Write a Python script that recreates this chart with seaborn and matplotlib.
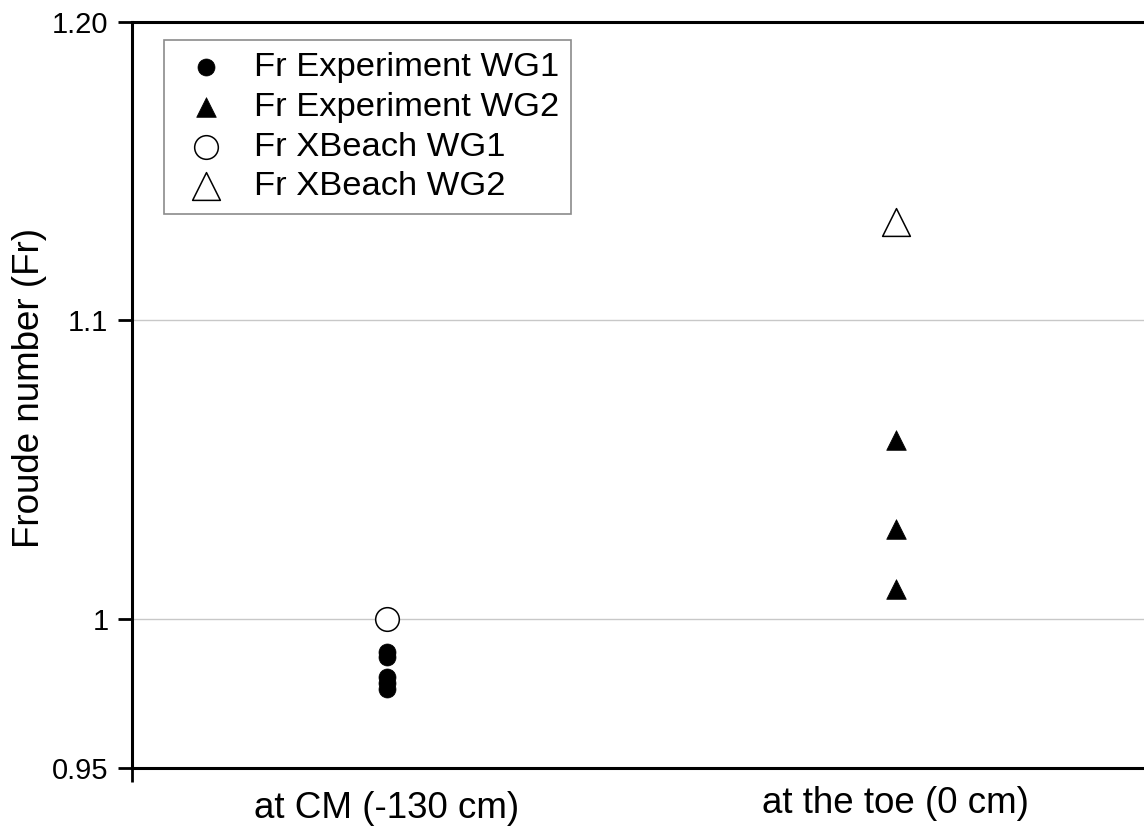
import matplotlib
matplotlib.use("Agg")
import matplotlib.pyplot as plt
import seaborn as sns
import pandas as pd
from matplotlib import transforms

# ---- data ----
categories = ["at CM (-130 cm)", "at the toe (0 cm)"]
exp_wg1 = [0.9888, 0.9871, 0.9805, 0.9785, 0.9765]   # at CM
exp_wg2 = [1.060, 1.030, 1.010]                      # at the toe
xb_wg1 = [1.000]                                     # at CM
xb_wg2 = [1.133]                                     # at the toe
y_ticks = [0.95, 1.0, 1.1, 1.20]
y_tick_labels = ["0.95", "1", "1.1", "1.20"]

sns.set_theme(style="white")
plt.rcParams["font.family"] = ["Liberation Sans", "DejaVu Sans"]

fig = plt.figure(figsize=(11.44, 8.33), dpi=100)
W, H = 1144, 833
ax = fig.add_axes([132 / W, 1 - 768 / H, 1018.5 / W, 746 / H])

df1 = pd.DataFrame({"pos": [0] * len(exp_wg1), "Fr": exp_wg1})
df2 = pd.DataFrame({"pos": [1] * len(exp_wg2), "Fr": exp_wg2})
df3 = pd.DataFrame({"pos": [0] * len(xb_wg1), "Fr": xb_wg1})
df4 = pd.DataFrame({"pos": [1] * len(xb_wg2), "Fr": xb_wg2})

sns.scatterplot(data=df1, x="pos", y="Fr", marker="o", s=150, color="black",
                edgecolor="black", linewidth=0.5, label="Fr Experiment WG1", ax=ax, zorder=3)
sns.scatterplot(data=df2, x="pos", y="Fr", marker="^", s=200, color="black",
                edgecolor="black", linewidth=0.5, label="Fr Experiment WG2", ax=ax, zorder=3)
sns.scatterplot(data=df3, x="pos", y="Fr", marker="o", s=290, facecolor="white",
                edgecolor="black", linewidth=1.1, label="Fr XBeach WG1", ax=ax, zorder=3)
sns.scatterplot(data=df4, x="pos", y="Fr", marker="^", s=400, facecolor="white",
                edgecolor="black", linewidth=1.1, label="Fr XBeach WG2", ax=ax, zorder=3)

ax.set_xlim(-0.5, 1.5)
ax.set_ylim(0.95, 1.20)
ax.set_yticks(y_ticks)
ax.set_yticklabels(y_tick_labels)
ax.yaxis.grid(True, color="#c8c8c8", linewidth=1.0)
ax.set_axisbelow(True)

# x ticks: only a short mark at the left edge (extends the y axis line down)
ax.set_xticks([-0.5])
ax.set_xticklabels([""])
ax.set_xlabel("")
ax.tick_params(axis="x", direction="out", length=10, width=2, color="black", bottom=True)
ax.tick_params(axis="y", direction="out", length=10, width=2, color="black", left=True,
               labelsize=21, pad=7, labelcolor="black")

for side in ["left", "bottom", "top"]:
    ax.spines[side].set_color("black")
    ax.spines[side].set_linewidth(2.2)
ax.spines["right"].set_visible(False)

# category labels
trans = transforms.blended_transform_factory(ax.transData, ax.transAxes)
base_y = [(768 - 818) / 746, (768 - 813) / 746]
for i, cat in enumerate(categories):
    ax.text(i, base_y[i], cat, transform=trans, ha="center", va="baseline",
            fontsize=26.5, color="black")

ax.set_ylabel("Froude number (Fr)", fontsize=26.5, color="black", va="center")
ax.yaxis.set_label_coords(-0.101, 0.51)

leg = ax.legend(loc="upper left", bbox_to_anchor=((164 - 132) / 1018.5, (768 - 40) / 746),
                borderaxespad=0, frameon=True, fancybox=False, fontsize=24.8,
                handletextpad=0.5, labelspacing=0.25, borderpad=0.35, handlelength=1.75)
leg.get_frame().set_edgecolor("#6e6e6e")
leg.get_frame().set_linewidth(1.2)
for t in leg.get_texts():
    t.set_color("black")

fig.savefig("out.png", dpi=100)
